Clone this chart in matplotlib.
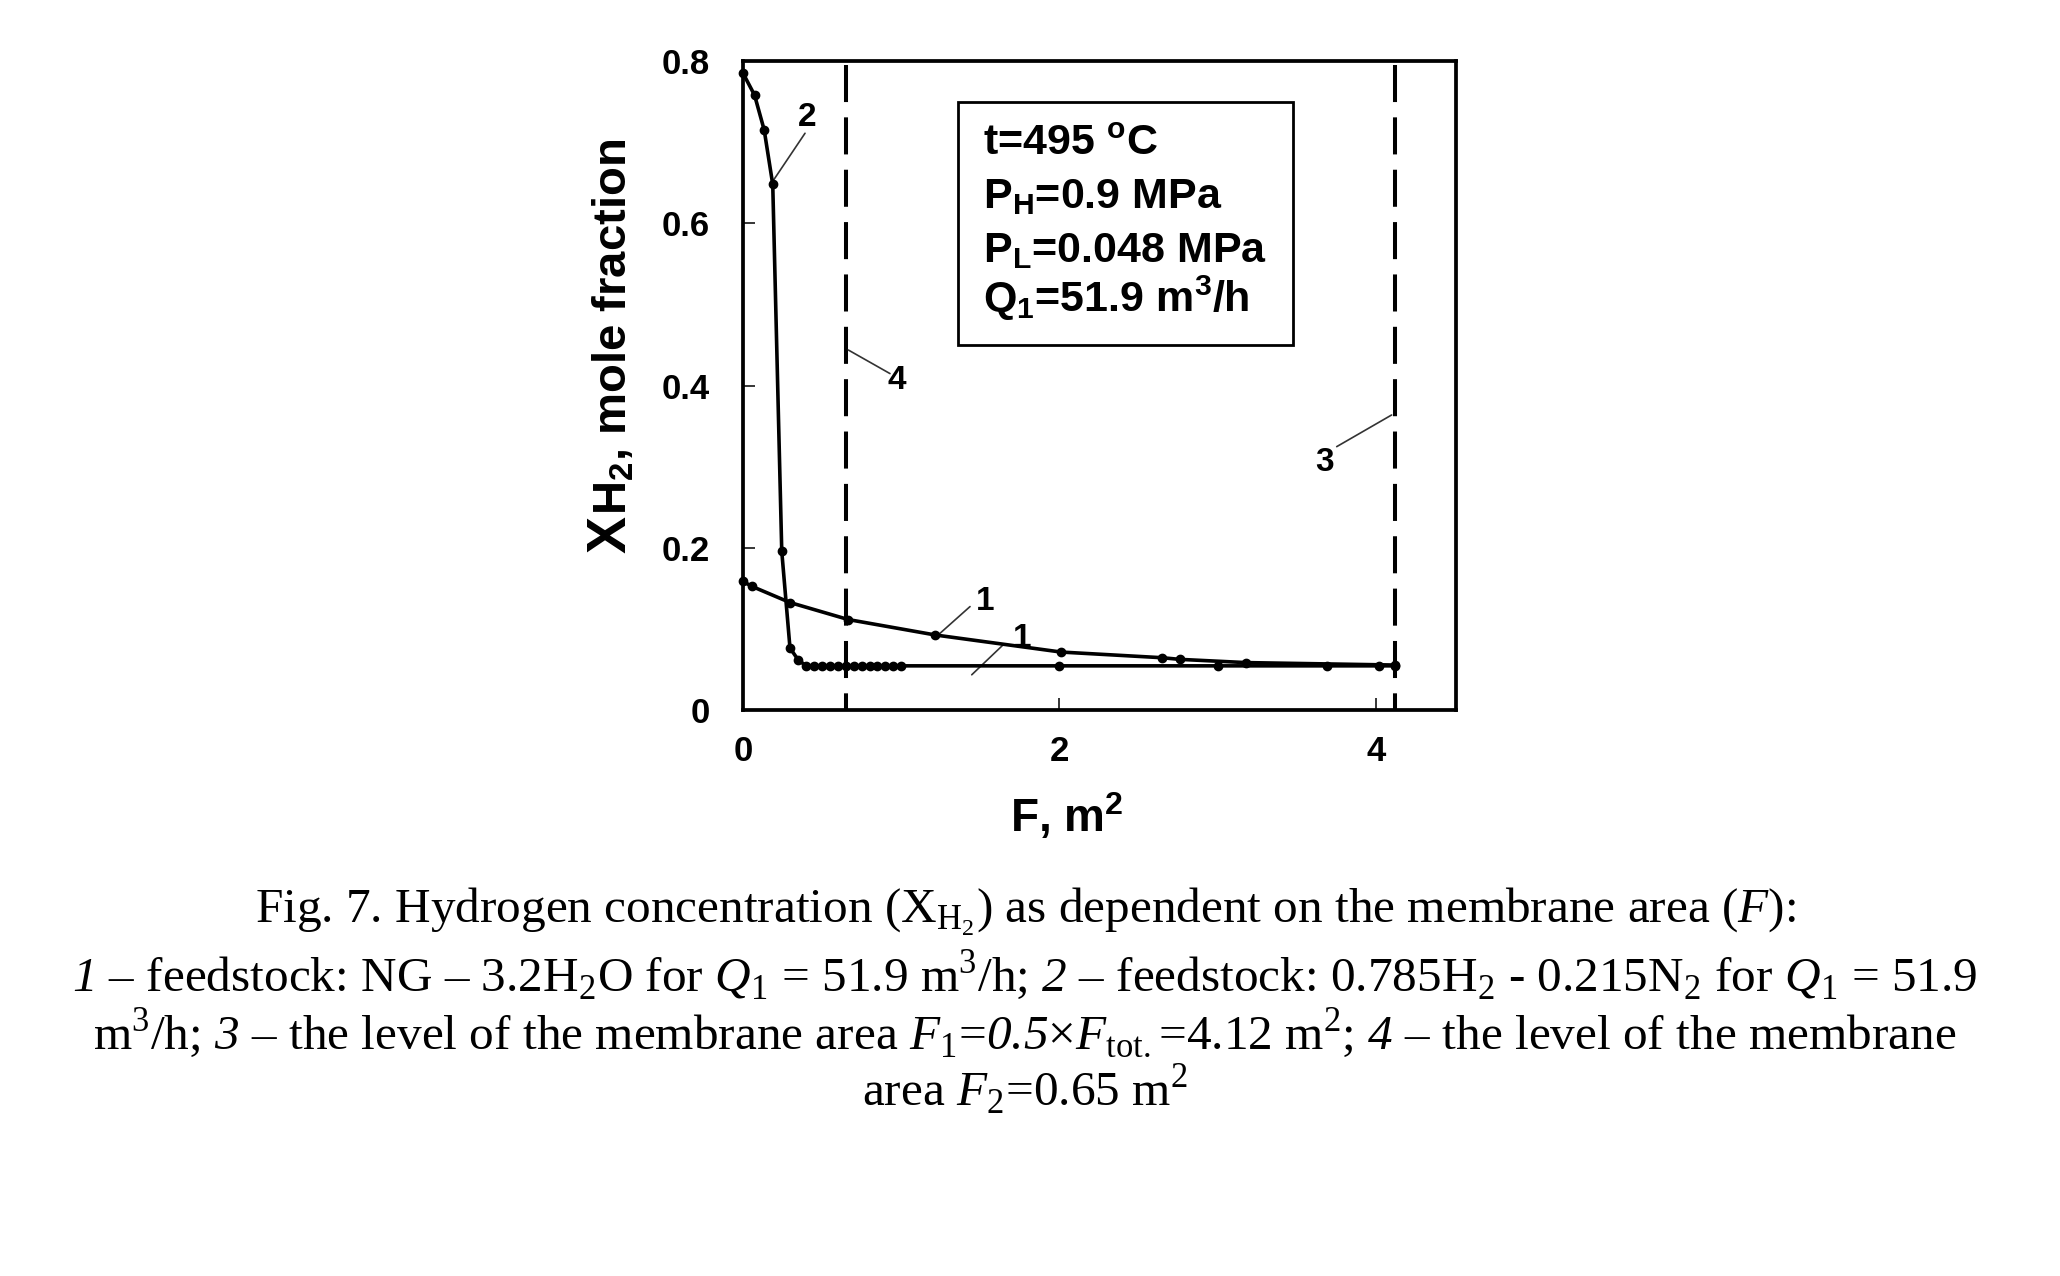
import matplotlib
matplotlib.use("Agg")
import matplotlib.pyplot as plt
from matplotlib.patches import Rectangle

# ---------------- data ----------------
# curve 1: feedstock NG - 3.2H2O
curve1_F = [0.0, 0.055, 0.297, 0.666, 1.216, 2.01, 2.65, 2.76, 3.18, 4.12]
curve1_X = [0.159, 0.153, 0.133, 0.112, 0.093, 0.072, 0.065, 0.063, 0.059, 0.056]

# curve 2: feedstock 0.785H2 - 0.215N2
curve2_F = [0.0, 0.073, 0.134, 0.188, 0.245, 0.297, 0.35, 0.40, 0.45, 0.50,
            0.55, 0.60, 0.65, 0.70, 0.75, 0.80, 0.85, 0.90, 0.95, 1.0,
            2.0, 3.0, 3.69, 4.02, 4.12]
curve2_X = [0.785, 0.758, 0.715, 0.648, 0.196, 0.077, 0.062, 0.055, 0.055, 0.055,
            0.055, 0.055, 0.055, 0.055, 0.055, 0.055, 0.055, 0.055, 0.055, 0.055,
            0.055, 0.055, 0.055, 0.055, 0.055]

# vertical reference levels: 3 -> F1 = 4.12 m2, 4 -> F2 = 0.65 m2
level3_F = 4.12
level4_F = 0.65

x_ticks = [0, 2, 4]
x_tick_labels = ["0", "2", "4"]
y_ticks = [0, 0.2, 0.4, 0.6, 0.8]
y_tick_labels = ["0", "0.2", "0.4", "0.6", "0.8"]

box_lines = [r"t=495 $^\mathrm{o}$C",
             r"P$_\mathrm{H}$=0.9 MPa",
             r"P$_\mathrm{L}$=0.048 MPa",
             r"Q$_\mathrm{1}$=51.9 m$^\mathrm{3}$/h"]

# caption: \mathsf -> serif italic, \mathtt -> serif upright
caption_lines = [
    r"Fig. 7. Hydrogen concentration (X$_{\mathtt{H}_{\mathtt{2}}}$) as dependent on the membrane area ($\mathsf{F}$):",
    r"$\mathsf{1}$ – feedstock: NG – 3.2H$_\mathtt{2}$O for $\mathsf{Q}_\mathtt{1}$ = 51.9 m$^\mathtt{3}$/h; "
    r"$\mathsf{2}$ – feedstock: 0.785H$_\mathtt{2}$ - 0.215N$_\mathtt{2}$ for $\mathsf{Q}_\mathtt{1}$ = 51.9",
    r"m$^\mathtt{3}$/h; $\mathsf{3}$ – the level of the membrane area $\mathsf{F}_\mathtt{1}$=$\mathsf{0.5}$×"
    r"$\mathsf{F}_\mathtt{tot.}$=4.12 m$^\mathtt{2}$; $\mathsf{4}$ – the level of the membrane",
    r"area $\mathsf{F}_\mathtt{2}$=0.65 m$^\mathtt{2}$",
]

# ---------------- style ----------------
plt.rcParams["font.family"] = ["Liberation Sans", "DejaVu Sans"]
plt.rcParams["mathtext.fontset"] = "custom"
plt.rcParams["mathtext.rm"] = "Liberation Sans:bold"
plt.rcParams["mathtext.it"] = "Liberation Sans:italic:bold"
plt.rcParams["mathtext.bf"] = "Liberation Sans:bold"
plt.rcParams["mathtext.tt"] = "Liberation Serif"
plt.rcParams["mathtext.sf"] = "Liberation Serif:italic"

W, H = 2060, 1276
fig = plt.figure(figsize=(W / 100, H / 100), dpi=100)
fig.patch.set_facecolor("white")


def fx(px):
    return px / W


def fy(py):
    return 1 - py / H


ax = fig.add_axes([fx(743), fy(710.5), 713 / W, 649.5 / H])
ax.set_xlim(0, 4.507)
ax.set_ylim(0, 0.8)

for s in ax.spines.values():
    s.set_linewidth(2.7)
    s.set_color("black")

ax.set_xticks(x_ticks)
ax.set_xticklabels(x_tick_labels)
ax.set_yticks(y_ticks)
ax.set_yticklabels(y_tick_labels)
ax.tick_params(axis="both", direction="in", length=8.6, width=1.1, labelsize=25)
ax.tick_params(axis="y", pad=24)
ax.tick_params(axis="x", pad=18)
for lab in ax.get_xticklabels() + ax.get_yticklabels():
    lab.set_fontweight("bold")

# curves
ax.plot(curve1_F, curve1_X, color="black", lw=2.6, marker="o", ms=6,
        clip_on=False, zorder=4)
ax.plot(curve2_F, curve2_X, color="black", lw=2.6, marker="o", ms=6,
        clip_on=False, zorder=4)

# dashed vertical levels (drawn from top to bottom)
dash = (0, (9.2, 3.8))
ax.plot([level3_F, level3_F], [0.795, 0.0], color="black", lw=2.9,
        linestyle=dash, zorder=3)
ax.plot([level4_F, level4_F], [0.795, 0.0], color="black", lw=2.9,
        linestyle=dash, zorder=3)

# curve labels with thin leader lines
leader = dict(arrowstyle="-", color="0.2", lw=1.2, shrinkA=0, shrinkB=0)
lab_kw = dict(fontsize=24, fontweight="bold", ha="center", va="center",
              color="black")
ax.text(0.403, 0.731, "2", **lab_kw)
ax.annotate("", xy=(0.192, 0.653), xytext=(0.392, 0.711), arrowprops=leader)
ax.text(0.972, 0.407, "4", **lab_kw)
ax.annotate("", xy=(0.666, 0.444), xytext=(0.929, 0.415), arrowprops=leader)
ax.text(1.53, 0.134, "1", **lab_kw)
ax.annotate("", xy=(1.245, 0.095), xytext=(1.435, 0.128), arrowprops=leader)
ax.text(1.762, 0.089, "1", **lab_kw)
ax.annotate("", xy=(1.446, 0.044), xytext=(1.645, 0.081), arrowprops=leader)
ax.text(3.679, 0.306, "3", **lab_kw)
ax.annotate("", xy=(4.10, 0.364), xytext=(3.753, 0.325), arrowprops=leader)

# parameter box
fig.add_artist(Rectangle((fx(958.3), fy(345)), (1293 - 958.3) / W, (345 - 101.7) / H,
                         transform=fig.transFigure, fill=False, lw=2.0,
                         edgecolor="black"))
for i, line in enumerate(box_lines):
    base = [155, 208, 262, 312][i]
    fig.text(fx(983), fy(base), line, fontsize=31, fontweight="bold",
             ha="left", va="baseline")

# axis labels
fig.text(fx(1067), fy(832), r"F, m$^\mathrm{2}$", fontsize=33, fontweight="bold",
         ha="center", va="baseline")
fig.text(fx(626), fy(553), "X", fontsize=40, fontweight="bold", rotation=90,
         rotation_mode="anchor", ha="left", va="baseline")
fig.text(fx(626), fy(515), r"H$_\mathrm{2}$, mole fraction", fontsize=34,
         fontweight="bold", rotation=90, rotation_mode="anchor",
         ha="left", va="baseline")

# caption (Times-like)
cap_base = [923, 990, 1048, 1106]
for line, base in zip(caption_lines, cap_base):
    fig.text(fx(1025), fy(base), line, fontsize=35.5, family="Liberation Serif",
             ha="center", va="baseline")

fig.savefig("out.png", dpi=100, facecolor="white")
